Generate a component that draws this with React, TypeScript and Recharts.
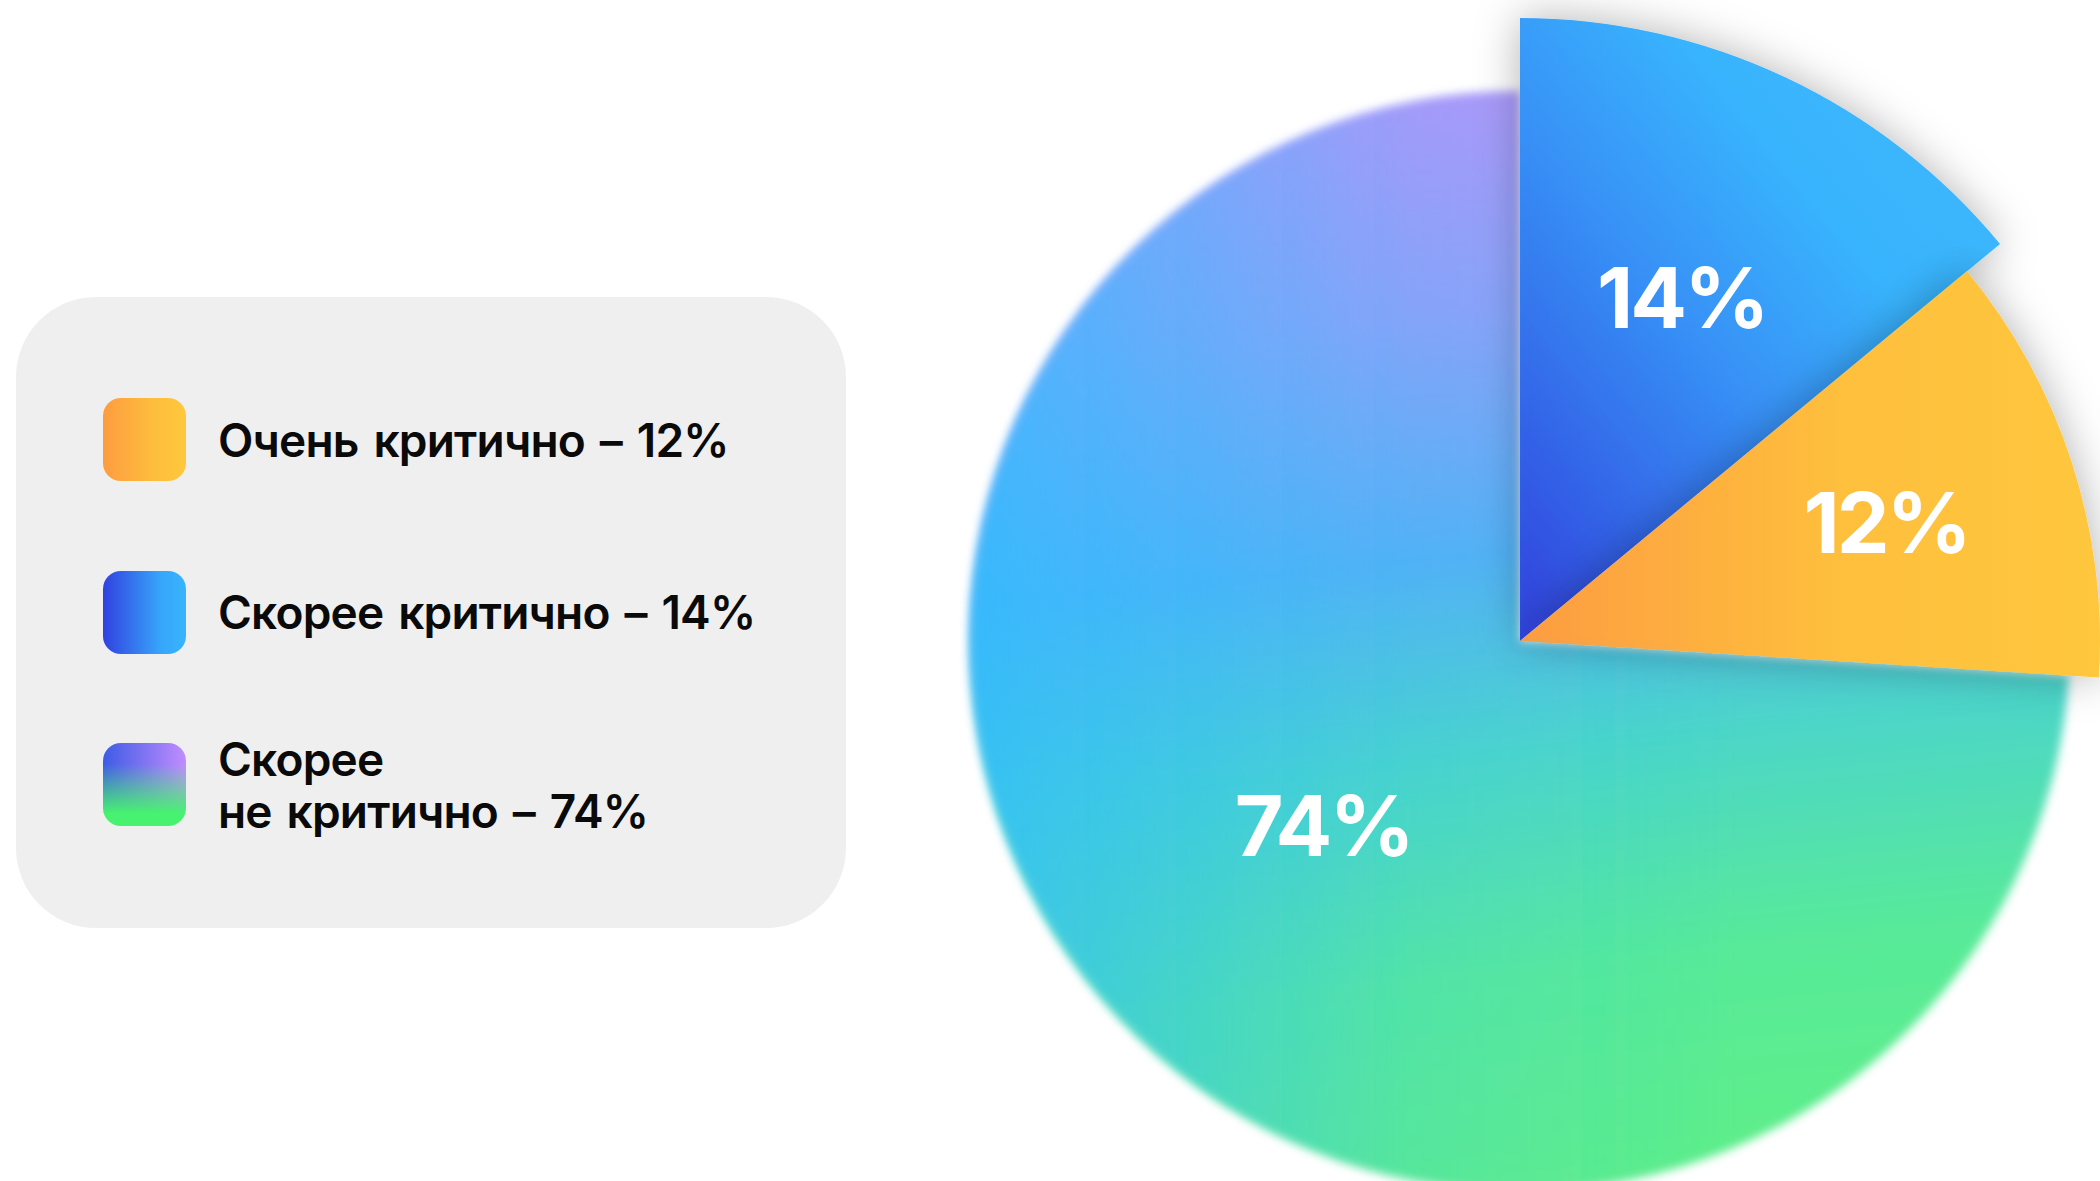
import React from 'react'
import { PieChart, Pie, Cell } from 'recharts'

// slices go clockwise from 12 o'clock
const categories = ['Скорее критично', 'Очень критично', 'Скорее не критично']
const values = [14, 12, 74]

// legend order as in the card
const legendOrder = [1, 0, 2]

const W = 2100
const H = 1181
const CX = 1520
const CY = 641

const RADII = [623, 580, 550]
const LABEL_R = [380, 385, 270]
const FILLS = ['url(#gradBlue)', 'url(#gradYellow)', 'url(#gradGreen)']
const FILTERS = ['url(#shadow)', 'url(#shadow)', 'url(#soft)']
// drawing order: green at the bottom, then blue, yellow on top
const layerOrder = [2, 0, 1]

const SWATCHES = [
  'linear-gradient(90deg, #3141e0 0%, #37a6fb 70%, #39b4fd 100%)',
  'linear-gradient(90deg, #fd9c40 0%, #febd3d 60%, #fec83c 100%)',
  'linear-gradient(180deg, rgba(80,245,120,0) 25%, rgba(70,242,112,1) 85%), linear-gradient(90deg, #3d5ce6 0%, #c28cff 100%)',
]

const chartData = categories.map((name, i) => ({ name, value: values[i] }))

const FONT = 'Inter, "Noto Sans", sans-serif'

function makeLabel(target: number) {
  return (props: any) => {
    if (props.index !== target) return null
    const RAD = Math.PI / 180
    const r = LABEL_R[target]
    const x = props.cx + r * Math.cos(-props.midAngle * RAD)
    const y = props.cy + r * Math.sin(-props.midAngle * RAD)
    return (
      <text
        x={x}
        y={y}
        fill="#fff"
        textAnchor="middle"
        dominantBaseline="central"
        fontFamily={FONT}
        fontWeight={700}
        fontSize={84}
        letterSpacing={-3}
      >
        {`${props.value}%`}
      </text>
    )
  }
}

function LegendCard() {
  return (
    <div
      style={{
        position: 'absolute',
        left: 16,
        top: 297,
        width: 830,
        height: 631,
        borderRadius: 80,
        background: '#efefef',
        fontFamily: FONT,
      }}
    >
      {legendOrder.map((idx, row) => {
        const name = categories[idx]
        const words = name.split(' ')
        const twoLines = words.length > 2
        return (
          <div
            key={name}
            style={{
              position: 'absolute',
              left: 87,
              top: 101 + row * 172.5,
              height: 83,
              display: 'flex',
              alignItems: 'center',
            }}
          >
            <div
              style={{
                width: 83,
                height: 83,
                borderRadius: 18,
                background: SWATCHES[idx],
                flexShrink: 0,
              }}
            />
            <div
              style={{
                marginLeft: 32,
                fontSize: 46,
                fontWeight: 600,
                color: '#0a0a0a',
                letterSpacing: -0.8,
                wordSpacing: 4,
                lineHeight: '52px',
                whiteSpace: 'nowrap',
              }}
            >
              {twoLines ? (
                <>
                  {words[0]}
                  <br />
                  {`${words.slice(1).join(' ')} – ${values[idx]}%`}
                </>
              ) : (
                `${name} – ${values[idx]}%`
              )}
            </div>
          </div>
        )
      })}
    </div>
  )
}

export default function App() {
  return (
    <div
      style={{
        position: 'absolute',
        left: 0,
        top: 0,
        width: W,
        height: H,
        background: '#fff',
        overflow: 'hidden',
      }}
    >
      <div style={{ position: 'absolute', left: 0, top: 0 }}>
        <PieChart width={W} height={H} margin={{ top: 0, right: 0, bottom: 0, left: 0 }}>
          <defs>
            <linearGradient id="gradBlue" x1="0" y1="1" x2="0.75" y2="0.2">
              <stop offset="0%" stopColor="#3040dc" />
              <stop offset="55%" stopColor="#3790f6" />
              <stop offset="85%" stopColor="#39b3fd" />
              <stop offset="100%" stopColor="#3ab6fd" />
            </linearGradient>
            <linearGradient id="gradYellow" x1="0" y1="0" x2="1" y2="0">
              <stop offset="0%" stopColor="#fd9c41" />
              <stop offset="55%" stopColor="#febf3d" />
              <stop offset="100%" stopColor="#fec73c" />
            </linearGradient>
            <linearGradient id="gradGreen" x1="0.45" y1="0" x2="0.55" y2="1">
              <stop offset="0%" stopColor="#b894f8" />
              <stop offset="20%" stopColor="#92a0f8" />
              <stop offset="42%" stopColor="#56b0f4" />
              <stop offset="60%" stopColor="#4cd6c8" />
              <stop offset="80%" stopColor="#58ea98" />
              <stop offset="100%" stopColor="#5eee88" />
            </linearGradient>
            <linearGradient id="gradGreenOverlay" x1="0" y1="0" x2="1" y2="0">
              <stop offset="0%" stopColor="#30bcff" stopOpacity={0.75} />
              <stop offset="40%" stopColor="#30bcff" stopOpacity={0.15} />
              <stop offset="70%" stopColor="#30bcff" stopOpacity={0} />
            </linearGradient>
            <filter id="shadow" x="-30%" y="-30%" width="160%" height="160%">
              <feDropShadow dx="0" dy="0" stdDeviation="22" floodColor="#000" floodOpacity="0.3" />
            </filter>
            <filter id="soft" x="-10%" y="-10%" width="120%" height="120%">
              <feGaussianBlur stdDeviation="5" />
            </filter>
          </defs>

          {layerOrder.map((target) => (
            <Pie
              key={`layer-${target}`}
              data={chartData}
              dataKey="value"
              nameKey="name"
              cx={CX}
              cy={CY}
              innerRadius={0}
              outerRadius={RADII[target]}
              startAngle={90}
              endAngle={-270}
              stroke="none"
              isAnimationActive={false}
              labelLine={false}
              label={makeLabel(target)}
            >
              {chartData.map((entry, i) => (
                <Cell
                  key={`cell-${target}-${i}`}
                  fill={i === target ? FILLS[target] : 'none'}
                  stroke="none"
                  filter={i === target ? FILTERS[target] : undefined}
                />
              ))}
            </Pie>
          ))}

          {/* cyan wash on the left side of the big slice */}
          <Pie
            data={chartData}
            dataKey="value"
            nameKey="name"
            cx={CX}
            cy={CY}
            innerRadius={0}
            outerRadius={RADII[2]}
            startAngle={90}
            endAngle={-270}
            stroke="none"
            isAnimationActive={false}
          >
            {chartData.map((entry, i) => (
              <Cell
                key={`overlay-${i}`}
                fill={i === 2 ? 'url(#gradGreenOverlay)' : 'none'}
                stroke="none"
                filter={i === 2 ? 'url(#soft)' : undefined}
              />
            ))}
          </Pie>
        </PieChart>
      </div>
      <LegendCard />
    </div>
  )
}
